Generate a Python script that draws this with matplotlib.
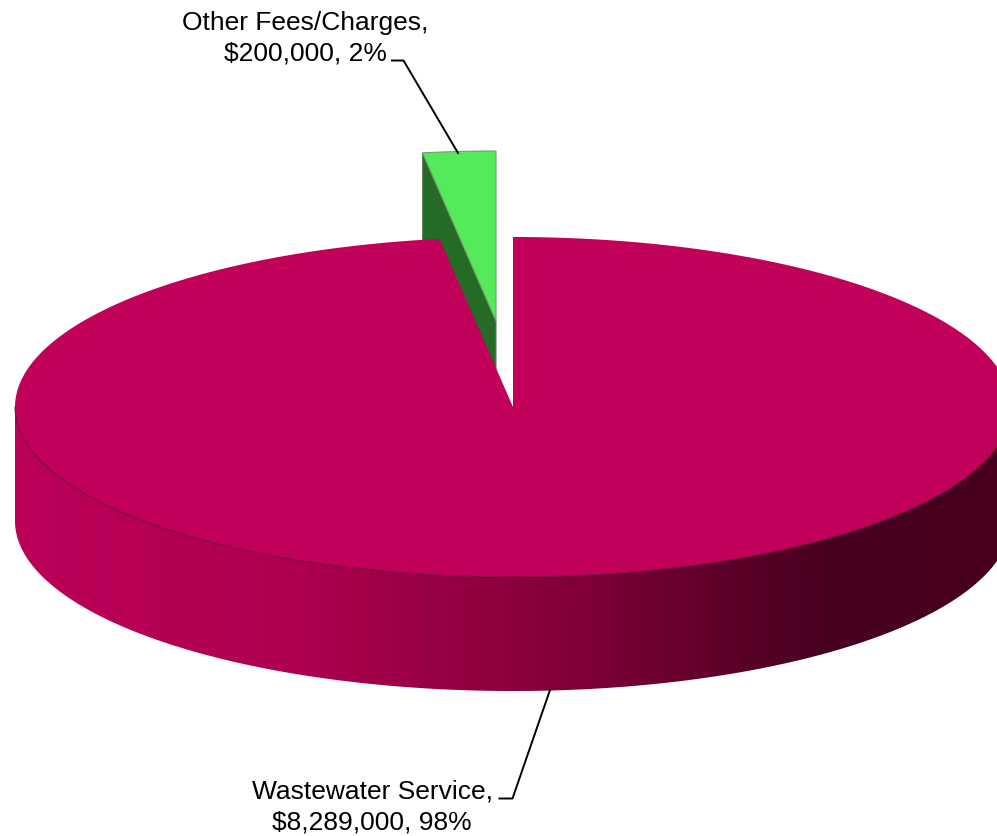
import matplotlib
matplotlib.use('Agg')
import matplotlib.pyplot as plt
import numpy as np
from matplotlib.colors import LinearSegmentedColormap
from matplotlib.patches import Polygon

plt.rcParams['font.family'] = ['Liberation Sans', 'DejaVu Sans']

# data
labels = ['Wastewater Service', 'Other Fees/Charges']
values = [8289000, 200000]
percents = [98, 2]

# pie geometry, in pixels of the picture
cx, cy = 513, 407
rx, ry = 498, 170
depth = 114
explode_x, explode_y = -17, -86

top_color = '#C1005A'
green_top = '#55EA5A'
green_side = '#256B26'
wall_cmap = LinearSegmentedColormap.from_list(
    'wall', [(0.0, '#BC0058'), (0.28, '#AE0050'), (0.54, '#850039'),
             (0.72, '#5C0029'), (0.82, '#480020'), (1.0, '#46001E')])


def ellipse_points(t_deg):
    # t is clockwise from 12 o'clock
    t = np.radians(t_deg)
    return rx * np.sin(t), -ry * np.cos(t)


fig = plt.figure(figsize=(9.97, 8.36), dpi=100)
ax = fig.add_axes([0, 0, 1, 1])

sweep = 360 * values[1] / sum(values)

# exploded slice: side first, then the top face
apex_x, apex_y = cx + explode_x, cy + explode_y
dx, dy = ellipse_points(np.linspace(-sweep, 0, 20))
ax.fill([apex_x + dx[0], apex_x + dx[0], apex_x, apex_x],
        [apex_y + dy[0], apex_y + dy[0] + depth, apex_y + depth, apex_y],
        color=green_side, ec='#5F7F5F', lw=0.8, zorder=1)
ax.fill(np.r_[apex_x, apex_x + dx], np.r_[apex_y, apex_y + dy],
        color=green_top, ec='#6F9F6F', lw=0.8, zorder=2)

# front wall of the big slice: gradient clipped to the wall shape
dx, dy = ellipse_points(np.linspace(90, 270, 300))
wall_x = np.r_[cx + dx, (cx + dx)[::-1]]
wall_y = np.r_[cy + dy + depth, (cy + dy)[::-1]]
wall = Polygon(np.c_[wall_x, wall_y], closed=True, transform=ax.transData, fc='none', ec='none')
ax.add_patch(wall)
im = ax.imshow(np.linspace(0, 1, 512)[None, :], cmap=wall_cmap, aspect='auto',
               extent=[cx - rx, cx + rx, cy + ry + depth, cy], zorder=3)
im.set_clip_path(wall)

# top face of the big slice
tx, ty = ellipse_points(np.linspace(0, 360 - sweep, 720))
ax.fill(np.r_[cx, cx + tx], np.r_[cy, cy + ty], color=top_color, lw=0, zorder=4)

# thin dark line on the front rim
ax.plot(cx + dx, cy + dy, color='#5A0030', lw=0.8, alpha=0.7, zorder=5)

# leader lines
ax.plot([392, 403.5, 458], [60.5, 60.5, 153], color='black', lw=1.4, zorder=6)
ax.plot([499.5, 512.5, 550], [798.5, 798.5, 690], color='black', lw=1.4, zorder=6)

# labels
label_pos = [(372, 807), (305, 38)]
for name, val, pct, (lx, ly) in zip(labels, values, percents, label_pos):
    ax.text(lx, ly, f'{name},\n${val:,}, {pct}%', ha='center', va='center',
            fontsize=19, color='black', linespacing=1.36, zorder=7)

ax.set_xlim(0, 997)
ax.set_ylim(836, 0)
ax.axis('off')

fig.savefig('out.png', dpi=100)
plt.close(fig)
